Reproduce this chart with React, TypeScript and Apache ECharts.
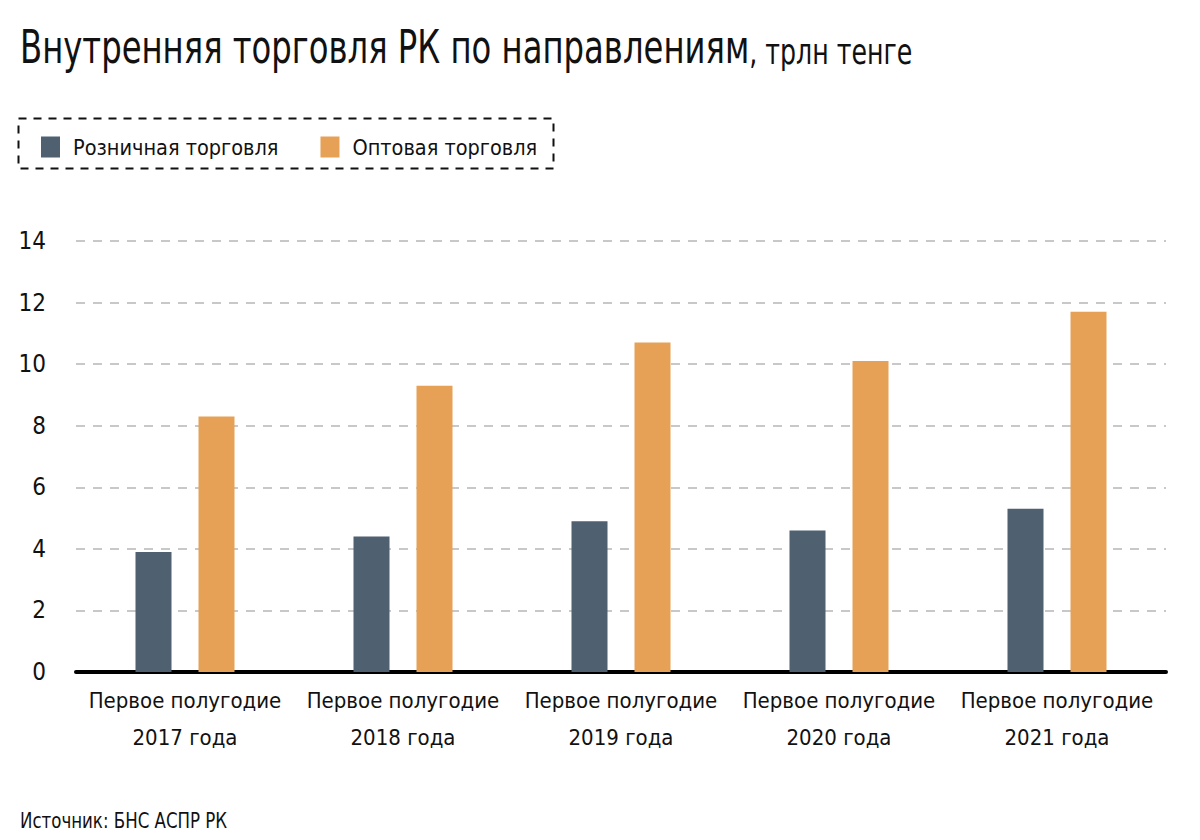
import React, { useEffect, useRef } from "react";
import * as echarts from "echarts";

const categories = [
  "Первое полугодие\n2017 года",
  "Первое полугодие\n2018 года",
  "Первое полугодие\n2019 года",
  "Первое полугодие\n2020 года",
  "Первое полугодие\n2021 года",
];
const retail = [3.9, 4.4, 4.9, 4.6, 5.3];
const wholesale = [8.3, 9.3, 10.7, 10.1, 11.7];
const seriesNames = ["Розничная торговля", "Оптовая торговля"];
const titleMain = "Внутренняя торговля РК по направлениям";
const titleUnit = ", трлн тенге";
const sourceText = "Источник: БНС АСПР РК";

const FONT = "'DejaVu Sans Condensed', 'Liberation Sans Narrow', sans-serif";

export default function App() {
  const ref = useRef<HTMLDivElement>(null);
  useEffect(() => {
    if (!ref.current) return;
    const chart = echarts.init(ref.current, null, { renderer: "svg" });
    chart.setOption({
      animation: false,
      backgroundColor: "#ffffff",
      textStyle: { fontFamily: FONT },
      legend: {
        left: 36,
        top: 131,
        itemWidth: 19,
        itemHeight: 21,
        itemGap: 42,
        icon: "rect",
        textStyle: { fontSize: 21.5, fontFamily: FONT, color: "#111", padding: [0, 0, 0, 8] },
        data: seriesNames,
      },
      graphic: [
        {
          type: "text",
          x: 20,
          y: 24,
          scaleX: 0.78,
          style: {
            text: `{a|${titleMain}}{b|${titleUnit}}`,
            fontFamily: FONT,
            verticalAlign: "top",
            rich: {
              a: { fontSize: 46, fontFamily: FONT, fill: "#111" },
              b: { fontSize: 36, fontFamily: FONT, fill: "#111", verticalAlign: "bottom" },
            },
          },
        },
        {
          type: "rect",
          shape: { x: 18.5, y: 118.5, width: 535, height: 50 },
          style: { fill: "none", stroke: "#111", lineWidth: 2, lineDash: [8, 7] },
        },
        {
          type: "text",
          x: 20,
          y: 811,
          scaleX: 0.88,
          style: { text: sourceText, fontSize: 21, fontFamily: FONT, fill: "#111", verticalAlign: "top" },
        },
      ],
      grid: { left: 76, right: 34, top: 241, bottom: 168 },
      xAxis: {
        type: "category",
        data: categories,
        axisLine: { lineStyle: { color: "#000", width: 4 } },
        axisTick: { show: false },
        axisLabel: {
          interval: 0,
          fontSize: 22,
          lineHeight: 37,
          color: "#111",
          margin: 10,
          fontFamily: FONT,
        },
      },
      yAxis: {
        type: "value",
        min: 0,
        max: 14,
        interval: 2,
        axisLine: { show: false },
        axisTick: { show: false },
        axisLabel: { fontSize: 24, color: "#111", margin: 30, fontFamily: FONT },
        splitLine: { lineStyle: { color: "#c8c8c8", type: [9, 8], width: 2 } },
      },
      series: [
        {
          name: seriesNames[0],
          type: "bar",
          data: retail,
          barWidth: 36,
          barGap: "75%",
          itemStyle: { color: "#4f6070" },
        },
        {
          name: seriesNames[1],
          type: "bar",
          data: wholesale,
          barWidth: 36,
          barGap: "75%",
          itemStyle: { color: "#e6a157" },
        },
      ],
    });
    return () => chart.dispose();
  }, []);
  return (
    <div
      ref={ref}
      style={{ position: "fixed", left: 0, top: 0, width: 1200, height: 840 }}
    />
  );
}
